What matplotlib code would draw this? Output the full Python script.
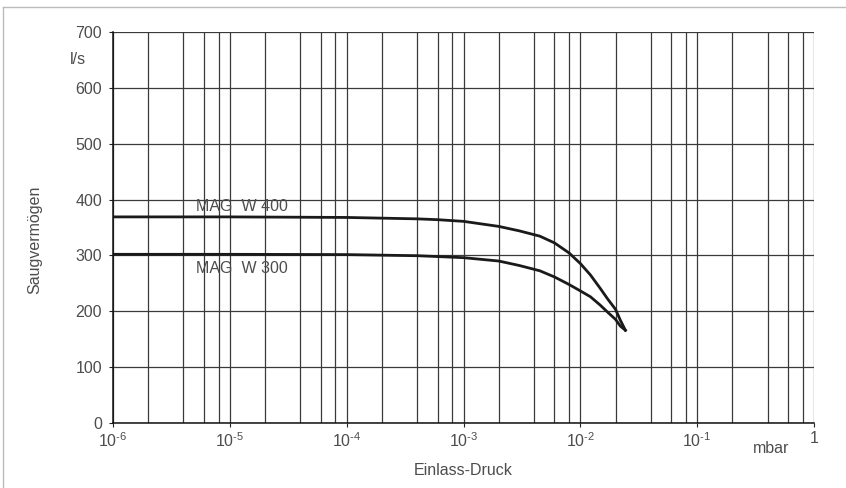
import numpy as np
import matplotlib
matplotlib.use("Agg")
import matplotlib.pyplot as plt
from matplotlib.ticker import LogLocator, FixedLocator, NullFormatter

plt.rcParams['font.family'] = ['Liberation Sans', 'DejaVu Sans']
plt.rcParams['mathtext.default'] = 'regular'

# values (pressure in mbar, speed in l/s)
p_400 = [1e-6, 1e-5, 1e-4, 4e-4, 6e-4, 1e-3, 2e-3, 3e-3, 4.5e-3, 6e-3, 8e-3, 1e-2,
         1.22e-2, 1.48e-2, 1.7e-2, 2e-2, 2.2e-2, 2.43e-2]
s_400 = [369, 369, 368, 365.5, 364, 361, 352, 344, 334.5, 322.5, 304.5, 285.5,
         265, 241, 223, 203.5, 184, 166]
p_300 = [1e-6, 1e-5, 1e-4, 4e-4, 6e-4, 1e-3, 2e-3, 3e-3, 4.5e-3, 6e-3, 8e-3, 1e-2,
         1.22e-2, 1.48e-2, 1.7e-2, 2e-2, 2.2e-2, 2.43e-2]
s_300 = [302, 302, 301.5, 299.5, 298, 296, 290, 282, 272.5, 261.5, 248, 236.5,
         226, 211, 199, 185.5, 173.5, 166]

x_ticks = [1e-6, 1e-5, 1e-4, 1e-3, 1e-2, 1e-1, 1]
x_labels = ['10$^{\u20106}$', '10$^{\u20105}$', '10$^{\u20104}$', '10$^{\u20103}$',
            '10$^{\u20102}$', '10$^{\u20101}$', '1']
y_ticks = [0, 100, 200, 300, 400, 500, 600, 700]

txt = '#4d4d4d'
grid_c = '#3a3a3a'
fs = 11.5

fig = plt.figure(figsize=(8.46, 4.88), dpi=100)
ax = fig.add_axes([0.1336, 0.1332, 0.9622 - 0.1336, 0.9344 - 0.1332])

ax.set_xscale('log')
ax.set_xlim(1e-6, 1)
ax.set_ylim(0, 700)

ax.xaxis.set_major_locator(FixedLocator(x_ticks))
ax.set_xticklabels(x_labels)
ax.xaxis.set_minor_locator(LogLocator(base=10, subs=[2, 4, 6, 8], numticks=20))
ax.xaxis.set_minor_formatter(NullFormatter())
ax.set_yticks(y_ticks)

ax.tick_params(axis='both', which='major', direction='out', length=3, width=0.8,
               colors='#222222', labelcolor=txt, labelsize=fs)
ax.tick_params(axis='x', which='minor', length=0)
ax.tick_params(axis='x', which='major', pad=3)
ax.tick_params(axis='y', which='major', pad=5)

ax.grid(True, which='major', color=grid_c, lw=0.9)
ax.grid(True, which='minor', axis='x', color=grid_c, lw=0.9)
ax.set_axisbelow(True)

for s in ['top', 'right']:
    ax.spines[s].set_visible(False)
for s in ['left', 'bottom']:
    ax.spines[s].set_color('#111111')
    ax.spines[s].set_linewidth(1.1)

ax.plot(p_400, s_400, color='#1a1a1a', lw=2.0, solid_joinstyle='round')
ax.plot(p_300, s_300, color='#1a1a1a', lw=2.0, solid_joinstyle='round')

ax.text(5.1e-6, 388, 'MAG  W 400', color=txt, fontsize=fs, va='center', ha='left')
ax.text(5.1e-6, 276, 'MAG  W 300', color=txt, fontsize=fs, va='center', ha='left')

ax.text(-0.05, 0.93, 'l/s', transform=ax.transAxes, color=txt, fontsize=fs, ha='center', va='center')
fig.text(0.041, 0.508, 'Saugvermögen', rotation=90, color=txt, fontsize=fs, ha='center', va='center')
fig.text(0.911, 0.08, 'mbar', color=txt, fontsize=fs, ha='center', va='center')
fig.text(0.548, 0.036, 'Einlass-Druck', color=txt, fontsize=fs, ha='center', va='center')

# light frame on top and left edge
fig.add_artist(plt.Line2D([0.0035, 1.0], [0.986, 0.986], transform=fig.transFigure, color='#bbbbbb', lw=1))
fig.add_artist(plt.Line2D([0.0035, 0.0035], [0.0, 0.986], transform=fig.transFigure, color='#bbbbbb', lw=1))

fig.savefig('out.png', dpi=100)
